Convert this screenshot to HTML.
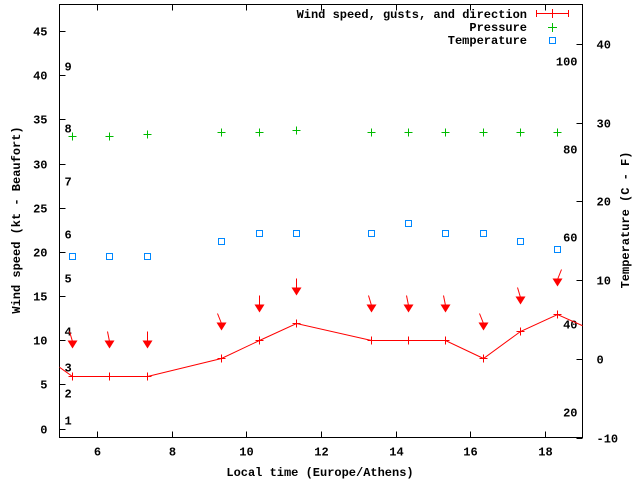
<!DOCTYPE html>
<html><head><meta charset="utf-8"><style>
body{margin:0;background:#fff}
svg text{font-family:"Liberation Mono",monospace;font-size:12px;font-weight:bold;fill:#000}
</style></head><body>
<svg id="c" width="640" height="480"></svg>
<script>
const times=[5.33,6.33,7.33,9.33,10.33,11.33,13.33,14.33,15.33,16.33,17.33,18.33];
const wind=[6,6,6,8,10,12,10,10,10,8,11,13];
const windPrev=[4.33,9];
const windNext=[19.33,11];
const gusts=[9.5,9.5,9.5,11.5,13.5,15.5,13.5,13.5,13.5,11.5,14.5,16.5];
const gustTilt=[-3,-2,0,-4,0,0,-3,-2,-2,-4,-3,4];
const pressure=[33.1,33.1,33.4,33.6,33.6,33.8,33.6,33.6,33.6,33.6,33.6,33.6];
const temperature=[13,13,13,15,16,16,16,17.3,16,16,15,14];
const xTicks=[6,8,10,12,14,16,18];
const yTicks=[0,5,10,15,20,25,30,35,40,45];
const y2Ticks=[-10,0,10,20,30,40];
const beaufortKt=[1,4,7,11,17,22,28,34,41];
const beaufortLbl=["1","2","3","4","5","6","7","8","9"];
const pressLblPos=[41.6,31.7,21.7,11.8,1.9];
const pressLbl=["100","80","60","40","20"];
const L=59.5,R=582.5,T=4.5,B=437.5;
const X=v=>Math.round(L+(v-5)/14*(R-L))+0.5;
const Y=v=>Math.round(B-(v+1)/49*(B-T))+0.5;
const Y2=v=>Math.round(B-(v+10)/55*(B-T))+0.5;
const s=document.getElementById('c');const NS='http://www.w3.org/2000/svg';
function el(t,a,p){const e=document.createElementNS(NS,t);for(const k in a)e.setAttribute(k,a[k]);(p||s).appendChild(e);return e;}
function txt(x,y,str,anchor,name){const e=el('text',{x:x,y:y,'text-anchor':anchor||'start'});e.textContent=str;

return e;}
const clip=el('clipPath',{id:'cl'});el('rect',{x:L,y:T,width:R-L,height:B-T},clip);
el('rect',{x:L,y:T,width:R-L,height:B-T,fill:'none',stroke:'#000','stroke-width':1});
xTicks.forEach(v=>{el('line',{x1:X(v),x2:X(v),y1:B,y2:B-6,stroke:'#000'});el('line',{x1:X(v),x2:X(v),y1:T,y2:T+6,stroke:'#000'});txt(X(v),B+18,String(v),'middle','x-tick-label');});
yTicks.forEach(v=>{el('line',{x1:L,x2:L+6,y1:Y(v),y2:Y(v),stroke:'#000'});txt(L-12,Y(v)+4,String(v),'end','y-tick-label');});
y2Ticks.forEach(v=>{el('line',{x1:R,x2:R-6,y1:Y2(v),y2:Y2(v),stroke:'#000'});txt(R+14,Y2(v)+4,String(v),'start','y2-tick-label');});
beaufortKt.forEach((v,i)=>txt(L+5,Y(v)+4,beaufortLbl[i],'start','beaufort-label'));
pressLblPos.forEach((v,i)=>txt(R-5,Y(v)+4,pressLbl[i],'end','pressure-scale-label'));
const g=el('g',{'clip-path':'url(#cl)'});
const wp=[[windPrev[0],windPrev[1]]].concat(times.map((t,i)=>[t,wind[i]])).concat([[windNext[0],windNext[1]]]);
el('polyline',{points:wp.map(p=>X(p[0])+','+Y(p[1])).join(' '),fill:'none',stroke:'#f00'},g);
times.forEach((t,i)=>{const x=X(t),y=Y(wind[i]);
const p=el('path',{d:`M${x-4},${y}h8M${x},${y-4}v8`,stroke:'#f00'},g);
const gx=x,gy=Y(gusts[i]),tl=gustTilt[i];
const a=el('g',{},g);
el('line',{x1:gx+tl,y1:gy-14,x2:gx,y2:gy-4,stroke:'#f00'},a);
el('polygon',{points:`${gx-5},${gy-5} ${gx+5},${gy-5} ${gx},${gy+3}`,fill:'#f00'},a);
const pp=el('path',{d:`M${x-4},${Y(pressure[i])}h8M${x},${Y(pressure[i])-4}v8`,stroke:'#0b0'},g);
const tt=el('rect',{x:x-3,y:Y2(temperature[i])-3,width:6,height:6,fill:'none',stroke:'#08f'},g);
});
txt(527,18,'Wind speed, gusts, and direction','end','legend-wind');
el('path',{d:'M536.5,13.5h32M536.5,10v7M568.5,10v7M552.5,9v9',stroke:'#f00'});
txt(527,31,'Pressure','end','legend-pressure');
el('path',{d:'M548,27.5h9M552.5,23v9',stroke:'#0b0'});
txt(527,44,'Temperature','end','legend-temperature');
el('rect',{x:549.5,y:37.5,width:6,height:6,fill:'none',stroke:'#08f'});
txt(320,476,'Local time (Europe/Athens)','middle','x-axis-title');
const yt=txt(0,0,'Wind speed (kt - Beaufort)','middle','y-axis-title');yt.setAttribute('transform','translate(20,220) rotate(-90)');
const y2t=txt(0,0,'Temperature (C - F)','middle','y2-axis-title');y2t.setAttribute('transform','translate(629,220) rotate(-90)');
</script>
</body></html>
